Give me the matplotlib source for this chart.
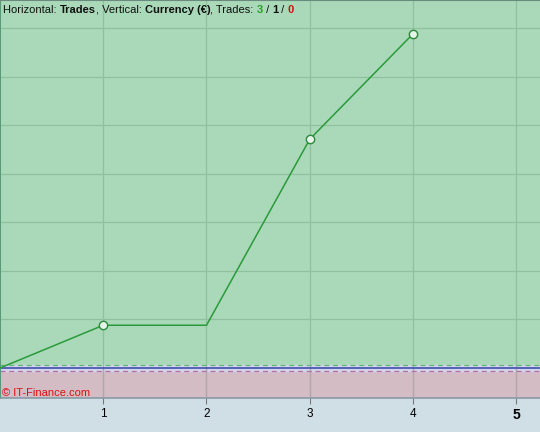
import matplotlib
matplotlib.use('agg')
import matplotlib.pyplot as plt

# equity curve per trade (currency, grid step = 100)
trades = [0, 1, 2, 3, 4]
equity = [0, 88, 88, 471, 688]
marked = [1, 3, 4]  # trades with a result marker
tick_pos = [1, 2, 3, 4, 5]
tick_labels = ['1', '2', '3', '4', '5']

GREEN_BG = '#a9d9b8'
PINK_BG = '#d4bcc4'
BOTTOM_BG = '#d0dee6'
FONT = ['Liberation Sans', 'DejaVu Sans']

fig = plt.figure(figsize=(5.4, 4.32), dpi=100)
fig.patch.set_facecolor(BOTTOM_BG)
ax = fig.add_axes([0, 34 / 432, 1, 398 / 432])

ymin, ymax = -61.8, 757.7
ax.set_xlim(0, 540 / 103.25)
ax.set_ylim(ymin, ymax)

# profit / loss zones
ax.axhspan(0, ymax, color=GREEN_BG, zorder=0)
ax.axhspan(ymin, 0, color=PINK_BG, zorder=0)
ax.axhspan(-6, 6, color='#d2d4ea', zorder=0.5)

# grid
for y in range(100, 800, 100):
    ax.axhline(y, color='#90c19f', lw=0.9, zorder=1)
for x in tick_pos:
    ax.axvline(x, color='#90c19f', lw=0.9, zorder=1)
    ax.axvline(x, ymax=-ymin / (ymax - ymin), color='#b8a4ac', lw=0.9, zorder=1)

ax.axhline(7, color='#5fb86f', lw=0.9, ls=(0, (4, 3)), zorder=2)
ax.axhline(-7, color='#b46fa8', lw=0.9, ls=(0, (4, 3)), zorder=2)
ax.axhline(0, color='#3344aa', lw=1.1, zorder=2)

# equity line
ax.plot(trades, equity, color='#2a9a3a', lw=1.1, zorder=3)
ax.plot([trades[i] for i in marked], [equity[i] for i in marked], 'o',
        ms=6, mfc='#e6f4ea', mec='#2a8a3a', mew=1.0, zorder=4)

ax.set_yticks([])
ax.set_xticks(tick_pos)
ax.set_xticklabels(tick_labels, fontsize=8.5, family=FONT)
ax.tick_params(axis='x', length=4, color='#777777', pad=3)
ax.get_xticklabels()[-1].set_fontweight('bold')
ax.get_xticklabels()[-1].set_fontsize(10)

ax.spines['right'].set_visible(False)
ax.spines['left'].set_color('#5a9a78')
ax.spines['left'].set_linewidth(1.5)
ax.spines['top'].set_color('#6a8a80')
ax.spines['top'].set_linewidth(1.5)
ax.spines['bottom'].set_color('#8a9aa4')
ax.spines['bottom'].set_linewidth(1.2)

# header
parts = [('Horizontal: ', 'normal', '#111111'), ('Trades', 'bold', '#111111'),
         (', Vertical: ', 'normal', '#111111'), ('Currency (€)', 'bold', '#111111'),
         (', Trades: ', 'normal', '#111111'), ('3', 'bold', '#2aa02a'),
         (' / ', 'normal', '#111111'), ('1', 'bold', '#111111'),
         (' / ', 'normal', '#111111'), ('0', 'bold', '#cc1111')]
fig.canvas.draw()
x = 3
renderer = fig.canvas.get_renderer()
for txt, weight, col in parts:
    t = fig.text(x / 540, 1 - 13 / 432, txt, fontsize=8, fontweight=weight,
                 color=col, va='baseline', ha='left', family=FONT)
    x += t.get_window_extent(renderer).width

fig.text(2 / 540, 1 - 396 / 432, '© IT-Finance.com', fontsize=8,
         color='#dd1111', va='baseline', ha='left', family=FONT)

fig.savefig('out.png', dpi=100, facecolor=fig.get_facecolor())
